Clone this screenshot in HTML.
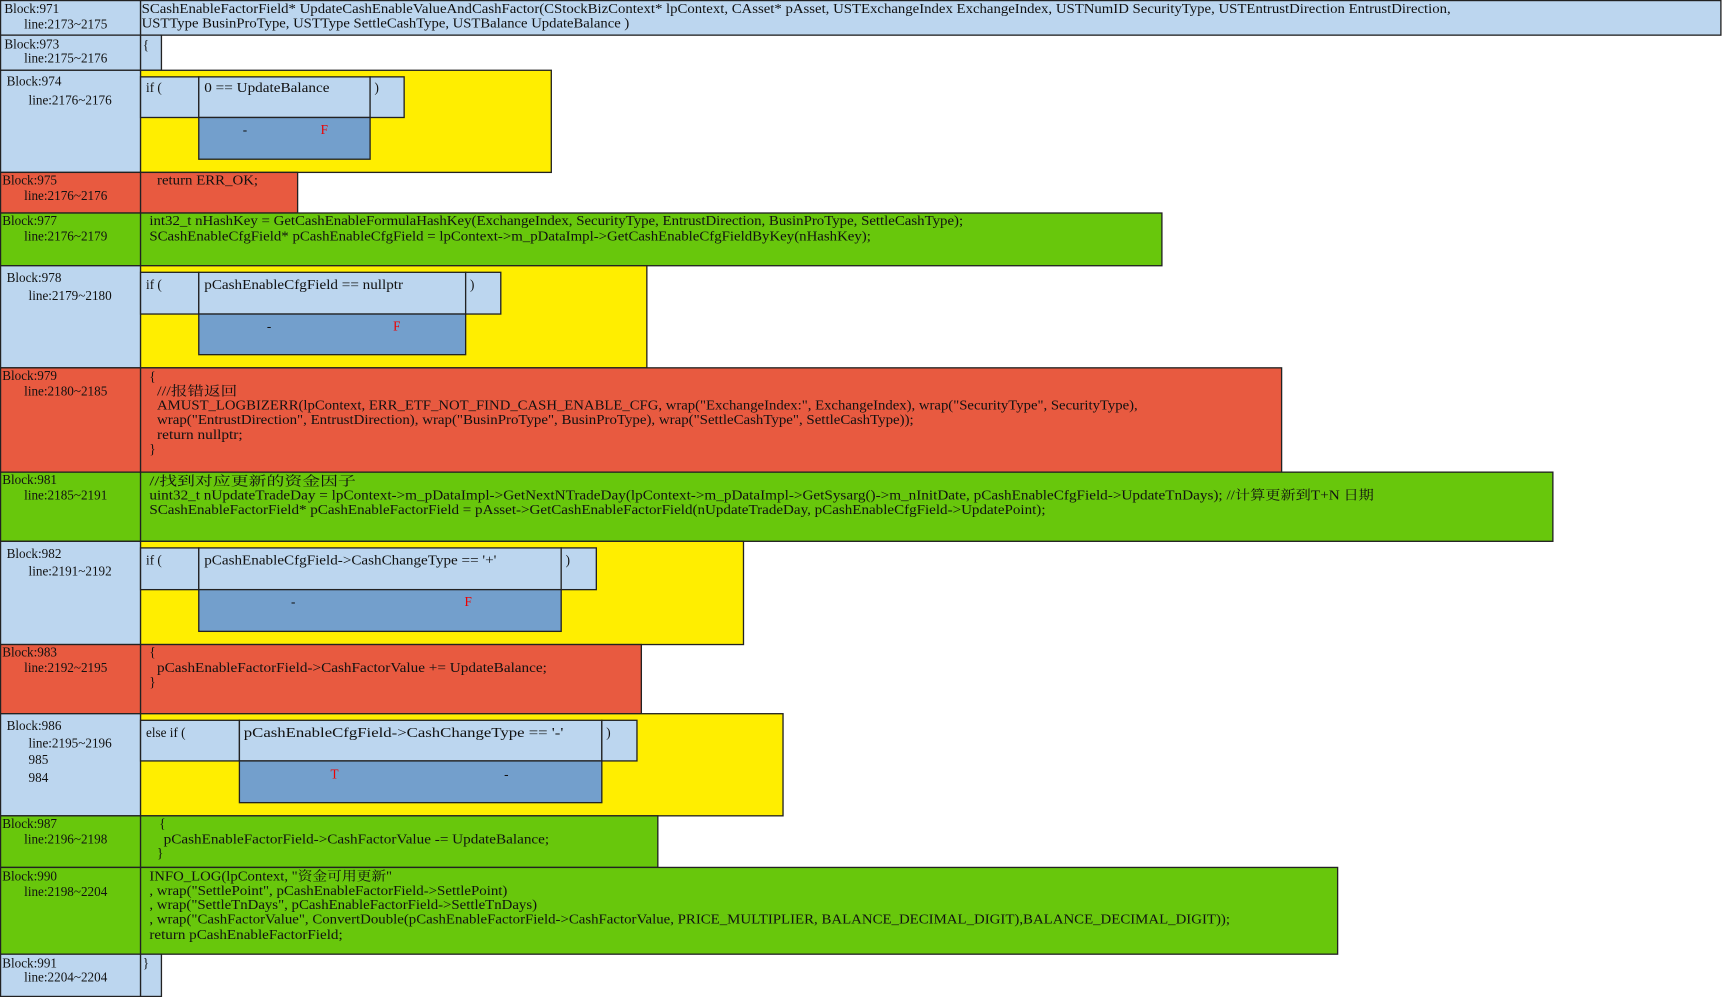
<!DOCTYPE html>
<html><head><meta charset="utf-8"><style>
html,body{margin:0;padding:0;background:#fff;}
svg{display:block;}
text{font-family:"Liberation Serif","Noto Serif CJK SC","Noto Sans CJK SC",serif;font-size:12px;fill:#111;}
.r{fill:#e00;}
</style></head><body>
<svg width="1722" height="997" viewBox="0 0 1568 908" preserveAspectRatio="none" xmlns="http://www.w3.org/2000/svg">
<g stroke="#222" stroke-width="1.2">
<!-- left column -->
<rect x="0.5" y="0.5" width="127.5" height="31.5" fill="#bcd6ef"/>
<rect x="0.5" y="32" width="127.5" height="32" fill="#bcd6ef"/>
<rect x="0.5" y="64" width="127.5" height="93" fill="#bcd6ef"/>
<rect x="0.5" y="157" width="127.5" height="37" fill="#e85a40"/>
<rect x="0.5" y="194" width="127.5" height="48" fill="#68c70c"/>
<rect x="0.5" y="242" width="127.5" height="93" fill="#bcd6ef"/>
<rect x="0.5" y="335" width="127.5" height="95" fill="#e85a40"/>
<rect x="0.5" y="430" width="127.5" height="63" fill="#68c70c"/>
<rect x="0.5" y="493" width="127.5" height="94" fill="#bcd6ef"/>
<rect x="0.5" y="587" width="127.5" height="63" fill="#e85a40"/>
<rect x="0.5" y="650" width="127.5" height="93" fill="#bcd6ef"/>
<rect x="0.5" y="743" width="127.5" height="47" fill="#68c70c"/>
<rect x="0.5" y="790" width="127.5" height="79" fill="#68c70c"/>
<rect x="0.5" y="869" width="127.5" height="38.5" fill="#bcd6ef"/>
<!-- content -->
<rect x="128" y="0.5" width="1439" height="31.5" fill="#bcd6ef"/>
<rect x="128" y="32" width="19" height="32" fill="#bcd6ef"/>
<rect x="128" y="64" width="374" height="93" fill="#ffee00"/>
<rect x="128" y="70" width="53" height="37" fill="#bcd6ef"/>
<rect x="181" y="70" width="156" height="37" fill="#bcd6ef"/>
<rect x="337" y="70" width="31" height="37" fill="#bcd6ef"/>
<rect x="181" y="107" width="156" height="38" fill="#739fcc"/>
<rect x="128" y="157" width="143" height="37" fill="#e85a40"/>
<rect x="128" y="194" width="930" height="48" fill="#68c70c"/>
<rect x="128" y="242" width="461" height="93" fill="#ffee00"/>
<rect x="128" y="248" width="53" height="38" fill="#bcd6ef"/>
<rect x="181" y="248" width="243" height="38" fill="#bcd6ef"/>
<rect x="424" y="248" width="32" height="38" fill="#bcd6ef"/>
<rect x="181" y="286" width="243" height="37" fill="#739fcc"/>
<rect x="128" y="335" width="1039" height="95" fill="#e85a40"/>
<rect x="128" y="430" width="1286" height="63" fill="#68c70c"/>
<rect x="128" y="493" width="549" height="94" fill="#ffee00"/>
<rect x="128" y="499" width="53" height="38" fill="#bcd6ef"/>
<rect x="181" y="499" width="330" height="38" fill="#bcd6ef"/>
<rect x="511" y="499" width="32" height="38" fill="#bcd6ef"/>
<rect x="181" y="537" width="330" height="38" fill="#739fcc"/>
<rect x="128" y="587" width="456" height="63" fill="#e85a40"/>
<rect x="128" y="650" width="585" height="93" fill="#ffee00"/>
<rect x="128" y="656" width="90" height="37" fill="#bcd6ef"/>
<rect x="218" y="656" width="330" height="37" fill="#bcd6ef"/>
<rect x="548" y="656" width="32" height="37" fill="#bcd6ef"/>
<rect x="218" y="693" width="330" height="38" fill="#739fcc"/>
<rect x="128" y="743" width="471" height="47" fill="#68c70c"/>
<rect x="128" y="790" width="1090" height="79" fill="#68c70c"/>
<rect x="128" y="869" width="19" height="38.5" fill="#bcd6ef"/>
</g>
<!-- left labels -->
<text x="4" y="12">Block:971</text><text x="22" y="26">line:2173~2175</text>
<text x="4" y="44">Block:973</text><text x="22" y="57">line:2175~2176</text>
<text x="6" y="78">Block:974</text><text x="26" y="95">line:2176~2176</text>
<text x="2" y="168">Block:975</text><text x="22" y="182">line:2176~2176</text>
<text x="2" y="205">Block:977</text><text x="22" y="219">line:2176~2179</text>
<text x="6" y="257">Block:978</text><text x="26" y="273">line:2179~2180</text>
<text x="2" y="346">Block:979</text><text x="22" y="360">line:2180~2185</text>
<text x="2" y="441">Block:981</text><text x="22" y="455">line:2185~2191</text>
<text x="6" y="508">Block:982</text><text x="26" y="524">line:2191~2192</text>
<text x="2" y="598">Block:983</text><text x="22" y="612">line:2192~2195</text>
<text x="6" y="665">Block:986</text><text x="26" y="681">line:2195~2196</text><text x="26" y="696">985</text><text x="26" y="712">984</text>
<text x="2" y="754">Block:987</text><text x="22" y="768">line:2196~2198</text>
<text x="2" y="802">Block:990</text><text x="22" y="816">line:2198~2204</text>
<text x="2" y="881">Block:991</text><text x="22" y="894">line:2204~2204</text>
<!-- content text -->
<text x="129" y="12" textLength="1192" lengthAdjust="spacingAndGlyphs">SCashEnableFactorField* UpdateCashEnableValueAndCashFactor(CStockBizContext* lpContext, CAsset* pAsset, USTExchangeIndex ExchangeIndex, USTNumID SecurityType, USTEntrustDirection EntrustDirection,</text>
<text x="129" y="25" textLength="444" lengthAdjust="spacingAndGlyphs">USTType BusinProType, USTType SettleCashType, USTBalance UpdateBalance )</text>
<text x="130" y="45">{</text>
<text x="133" y="84">if (</text>
<text x="186" y="84" textLength="114" lengthAdjust="spacingAndGlyphs">0 == UpdateBalance</text>
<text x="341" y="84">)</text>
<text x="221" y="122">-</text><text x="292" y="122" class="r">F</text>
<text x="143" y="168" textLength="92" lengthAdjust="spacingAndGlyphs">return ERR_OK;</text>
<text x="136" y="205" textLength="741" lengthAdjust="spacingAndGlyphs">int32_t nHashKey = GetCashEnableFormulaHashKey(ExchangeIndex, SecurityType, EntrustDirection, BusinProType, SettleCashType);</text>
<text x="136" y="219" textLength="657" lengthAdjust="spacingAndGlyphs">SCashEnableCfgField* pCashEnableCfgField = lpContext-&gt;m_pDataImpl-&gt;GetCashEnableCfgFieldByKey(nHashKey);</text>
<text x="133" y="263">if (</text>
<text x="186" y="263" textLength="181" lengthAdjust="spacingAndGlyphs">pCashEnableCfgField == nullptr</text>
<text x="428" y="263">)</text>
<text x="243" y="301">-</text><text x="358" y="301" class="r">F</text>
<text x="136" y="347">{</text>
<text x="143" y="360" textLength="73" lengthAdjust="spacingAndGlyphs">///报错返回</text>
<text x="143" y="373" textLength="893" lengthAdjust="spacingAndGlyphs">AMUST_LOGBIZERR(lpContext, ERR_ETF_NOT_FIND_CASH_ENABLE_CFG,  wrap("ExchangeIndex:", ExchangeIndex),  wrap("SecurityType", SecurityType),</text>
<text x="143" y="386" textLength="689" lengthAdjust="spacingAndGlyphs">wrap("EntrustDirection", EntrustDirection),  wrap("BusinProType", BusinProType),  wrap("SettleCashType", SettleCashType));</text>
<text x="143" y="400" textLength="78" lengthAdjust="spacingAndGlyphs">return nullptr;</text>
<text x="136" y="413">}</text>
<text x="136" y="442" textLength="188" lengthAdjust="spacingAndGlyphs">//找到对应更新的资金因子</text>
<text x="136" y="455" textLength="1115" lengthAdjust="spacingAndGlyphs">uint32_t nUpdateTradeDay = lpContext-&gt;m_pDataImpl-&gt;GetNextNTradeDay(lpContext-&gt;m_pDataImpl-&gt;GetSysarg()-&gt;m_nInitDate, pCashEnableCfgField-&gt;UpdateTnDays); //计算更新到T+N 日期</text>
<text x="136" y="468" textLength="816" lengthAdjust="spacingAndGlyphs">SCashEnableFactorField* pCashEnableFactorField = pAsset-&gt;GetCashEnableFactorField(nUpdateTradeDay, pCashEnableCfgField-&gt;UpdatePoint);</text>
<text x="133" y="514">if (</text>
<text x="186" y="514" textLength="266" lengthAdjust="spacingAndGlyphs">pCashEnableCfgField-&gt;CashChangeType == '+'</text>
<text x="515" y="514">)</text>
<text x="265" y="552">-</text><text x="423" y="552" class="r">F</text>
<text x="136" y="598">{</text>
<text x="143" y="612" textLength="355" lengthAdjust="spacingAndGlyphs">pCashEnableFactorField-&gt;CashFactorValue += UpdateBalance;</text>
<text x="136" y="625">}</text>
<text x="133" y="671">else if (</text>
<text x="222" y="671" textLength="291" lengthAdjust="spacingAndGlyphs">pCashEnableCfgField-&gt;CashChangeType == '-'</text>
<text x="552" y="671">)</text>
<text x="301" y="709" class="r">T</text><text x="459" y="709">-</text>
<text x="145" y="754">{</text>
<text x="149" y="768" textLength="351" lengthAdjust="spacingAndGlyphs">pCashEnableFactorField-&gt;CashFactorValue -= UpdateBalance;</text>
<text x="143" y="781">}</text>
<text x="136" y="802" textLength="221" lengthAdjust="spacingAndGlyphs">INFO_LOG(lpContext, "资金可用更新"</text>
<text x="136" y="815" textLength="326" lengthAdjust="spacingAndGlyphs">, wrap("SettlePoint", pCashEnableFactorField-&gt;SettlePoint)</text>
<text x="136" y="828" textLength="353" lengthAdjust="spacingAndGlyphs">, wrap("SettleTnDays", pCashEnableFactorField-&gt;SettleTnDays)</text>
<text x="136" y="841" textLength="984" lengthAdjust="spacingAndGlyphs">, wrap("CashFactorValue", ConvertDouble(pCashEnableFactorField-&gt;CashFactorValue, PRICE_MULTIPLIER, BALANCE_DECIMAL_DIGIT),BALANCE_DECIMAL_DIGIT));</text>
<text x="136" y="855" textLength="176" lengthAdjust="spacingAndGlyphs">return pCashEnableFactorField;</text>
<text x="130" y="881">}</text>
</svg>
</body></html>
